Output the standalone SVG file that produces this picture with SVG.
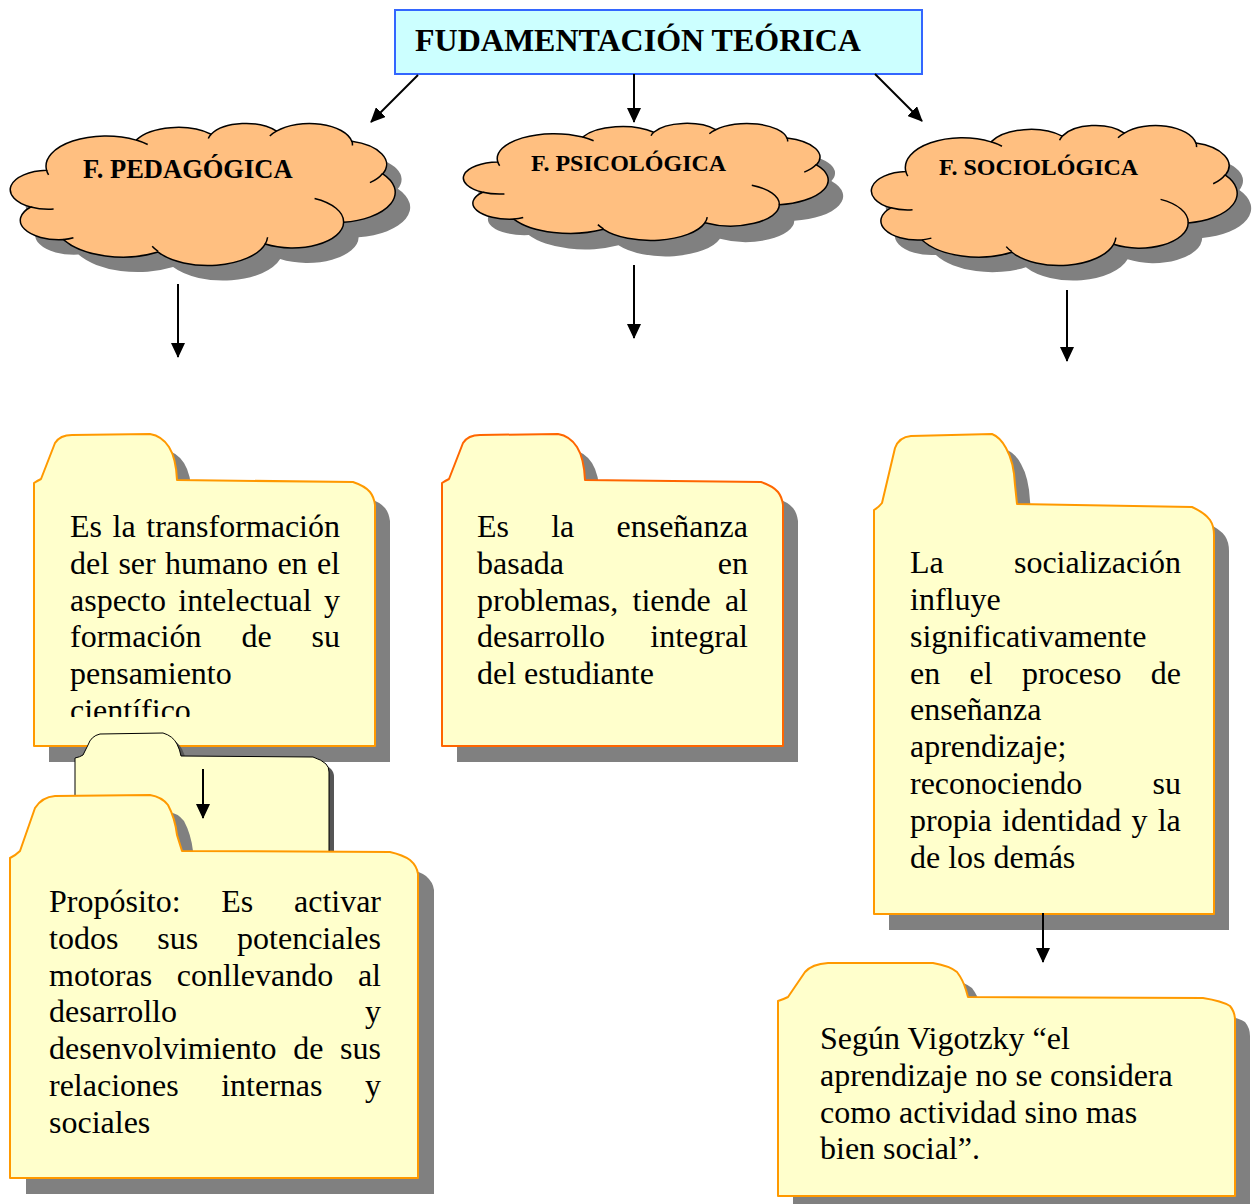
<svg xmlns="http://www.w3.org/2000/svg" xmlns:xlink="http://www.w3.org/1999/xlink" width="1252" height="1204" viewBox="0 0 1252 1204">
  <style>
    .txt { font-family: "Liberation Serif", "Times New Roman", serif; font-size: 32px; fill: #000; }
    .head { font-family: "Liberation Serif", "Times New Roman", serif; font-weight: bold; fill: #000; }
    .shadow { fill: #808080; stroke: none; }
    .cloud { fill: #FFBF80; stroke: #000; stroke-width: 1.5; }
    .crease { fill: none; stroke: #000; stroke-width: 1.5; }
    .folder { fill: #FFFFCC; stroke: #FF9900; stroke-width: 2; stroke-linejoin: round; }
    .link { stroke: #000; stroke-width: 2; fill: none; marker-end: url(#arrow); }
  </style>
  <defs>
    <marker id="arrow" viewBox="0 0 15 14" refX="14" refY="7" markerWidth="15" markerHeight="14" markerUnits="userSpaceOnUse" orient="auto">
      <path d="M0,0 L15,7 L0,14 Z" fill="#000"/>
    </marker>
    <!-- cloud outline drawn in a 432 x 432 box -->
    <path id="cloudShape" vector-effect="non-scaling-stroke" d="M39.00,143.70 A67.53,91.90 0 0 1 140.05,52.02 A53.33,72.67 0 0 1 224.57,34.34 A43.65,59.45 0 0 1 298.34,24.83 A48.57,65.95 0 0 1 383.19,55.80 A53.33,72.73 0 0 1 418.19,154.64 A67.75,92.20 0 0 1 374.04,302.07 A57.85,78.67 0 0 1 285.55,368.17 A67.52,92.15 0 0 1 164.81,392.71 A77.20,105.43 0 0 1 58.04,354.76 A43.60,59.18 0 0 1 21.12,255.56 A43.45,59.45 0 0 1 39.00,143.70 Z"/>
    <!-- inner crease arcs where the puffs meet -->
    <path id="cloudCreases" vector-effect="non-scaling-stroke" d="M46.93,261.77 A43.45,59.45 0 0 1 21.12,255.56 M69.28,348.99 A43.60,59.18 0 0 1 58.04,354.76 M164.78,390.90 A67.52,92.15 0 0 1 158.12,375.29 M288.27,347.51 A67.52,92.15 0 0 1 285.55,368.17 M341.29,229.54 A57.85,78.67 0 0 1 374.04,302.07 M417.98,153.54 A53.33,72.73 0 0 1 403.71,181.40 M383.24,54.26 A48.57,65.95 0 0 1 383.95,68.43 M290.78,39.52 A48.57,65.95 0 0 1 298.34,24.83 M221.41,47.20 A43.65,59.45 0 0 1 224.57,34.34 M140.00,51.92 A67.53,91.90 0 0 1 153.06,65.52 M41.27,157.89 A67.53,91.90 0 0 1 39.00,143.70"/>
    <path id="folderA" d="M34,483 Q37,481 41,479 L55,443 Q60,435 72,435 L150,434 Q162,436 169,447 Q176,458 177,480 L353,482 Q365,486 370,492 Q374,497 375,505 L375,746 L34,746 Z"/>
    <clipPath id="clipA">
      <rect x="34" y="490" width="341" height="227"/>
    </clipPath>
  </defs>

  <rect width="1252" height="1204" fill="#FFFFFF"/>

  <!-- title -->
  <g id="title">
    <rect x="395" y="10" width="527" height="64" fill="#CCFFFF" stroke="#3366FF" stroke-width="2"/>
    <text class="head" x="415" y="51" font-size="32">FUDAMENTACIÓN TEÓRICA</text>
  </g>

  <!-- clouds -->
  <g id="cloud-pedagogica">
    <use xlink:href="#cloudShape" class="shadow" transform="translate(27,138) scale(0.8866,0.3287)"/>
    <use xlink:href="#cloudShape" class="cloud" transform="translate(12,123) scale(0.8866,0.3287)"/>
    <use xlink:href="#cloudCreases" class="crease" transform="translate(12,123) scale(0.8866,0.3287)"/>
    <text class="head" x="83" y="178" font-size="26.5">F. PEDAGÓGICA</text>
  </g>
  <g id="cloud-psicologica">
    <use xlink:href="#cloudShape" class="shadow" transform="translate(480,139) scale(0.8403,0.2708)"/>
    <use xlink:href="#cloudShape" class="cloud" transform="translate(465,123) scale(0.8403,0.2708)"/>
    <use xlink:href="#cloudCreases" class="crease" transform="translate(465,123) scale(0.8403,0.2708)"/>
    <text class="head" x="531" y="171" font-size="24">F. PSICOLÓGICA</text>
  </g>
  <g id="cloud-sociologica">
    <use xlink:href="#cloudShape" class="shadow" transform="translate(887,140) scale(0.8426,0.3241)"/>
    <use xlink:href="#cloudShape" class="cloud" transform="translate(873,125) scale(0.8426,0.3241)"/>
    <use xlink:href="#cloudCreases" class="crease" transform="translate(873,125) scale(0.8426,0.3241)"/>
    <text class="head" x="939" y="175" font-size="24">F. SOCIOLÓGICA</text>
  </g>

  <!-- folder: pedagogical -->
  <g id="folder-pedagogica">
    <use xlink:href="#folderA" class="shadow" transform="translate(15,16)"/>
    <use xlink:href="#folderA" class="folder"/>
    <g clip-path="url(#clipA)">
      <text class="txt" x="70" y="537" style="word-spacing:2.6px">Es la transformación</text>
      <text class="txt" x="70" y="574" style="word-spacing:1.3px">del ser humano en el</text>
      <text class="txt" x="70" y="611" style="word-spacing:4.35px">aspecto intelectual y</text>
      <text class="txt" x="70" y="647" style="word-spacing:31.9px">formación de su</text>
      <text class="txt" x="70" y="684">pensamiento</text>
      <text class="txt" x="70" y="721">científico.</text>
    </g>
  </g>

  <!-- folder: psychological -->
  <g id="folder-psicologica">
    <use xlink:href="#folderA" class="shadow" transform="translate(423,16)"/>
    <use xlink:href="#folderA" class="folder" transform="translate(408,0)" style="stroke:#FF6600"/>
    <text class="txt" x="477" y="537" style="word-spacing:34.2px">Es la enseñanza</text>
    <text class="txt" x="477" y="574" style="word-spacing:145.7px">basada en</text>
    <text class="txt" x="477" y="611" style="word-spacing:6.2px">problemas, tiende al</text>
    <text class="txt" x="477" y="647" style="word-spacing:37.3px">desarrollo integral</text>
    <text class="txt" x="477" y="684">del estudiante</text>
  </g>

  <!-- folder: sociological -->
  <g id="folder-sociologica">
    <path class="shadow" transform="translate(15,16)" d="M874,510 Q879,507 882,503 L895,448 Q899,437 911,436 L992,434 Q1000,437 1006,448 Q1014,462 1015,485 L1017,504 L1192,507 Q1205,513 1210,520 Q1214,526 1214,535 L1214,914 L874,914 Z"/>
    <path class="folder" d="M874,510 Q879,507 882,503 L895,448 Q899,437 911,436 L992,434 Q1000,437 1006,448 Q1014,462 1015,485 L1017,504 L1192,507 Q1205,513 1210,520 Q1214,526 1214,535 L1214,914 L874,914 Z"/>
    <text class="txt" x="910" y="573" style="word-spacing:62.2px">La socialización</text>
    <text class="txt" x="910" y="610">influye</text>
    <text class="txt" x="910" y="647">significativamente</text>
    <text class="txt" x="910" y="684" style="word-spacing:21.3px">en el proceso de</text>
    <text class="txt" x="910" y="720">enseñanza</text>
    <text class="txt" x="910" y="757">aprendizaje;</text>
    <text class="txt" x="910" y="794" style="word-spacing:62.2px">reconociendo su</text>
    <text class="txt" x="910" y="831" style="word-spacing:2.3px">propia identidad y la</text>
    <text class="txt" x="910" y="868">de los demás</text>
  </g>

  <!-- small empty folder behind the purpose card -->
  <g id="folder-blank">
    <path fill="#555555" transform="translate(5,5)" d="M75,758 Q80,757 83,755 L88,745 Q91,736 100,734 L163,733 Q173,736 177,744 Q180,750 181,756 L313,757 Q322,760 326,764 Q329,767 329,772 L329,880 L75,880 Z"/>
    <path fill="#FFFFCC" stroke="#000" stroke-width="1" d="M75,758 Q80,757 83,755 L88,745 Q91,736 100,734 L163,733 Q173,736 177,744 Q180,750 181,756 L313,757 Q322,760 326,764 Q329,767 329,772 L329,880 L75,880 Z"/>
  </g>

  <!-- folder: purpose -->
  <g id="folder-proposito">
    <path class="shadow" transform="translate(16,16)" d="M10,858 Q16,855 20,851 L35,808 Q42,797 55,796 L150,795 Q162,797 168,805 Q175,818 177,835 L182,851 L390,852 Q403,855 410,860 Q417,866 418,874 L418,1178 L10,1178 Z"/>
    <path class="folder" d="M10,858 Q16,855 20,851 L35,808 Q42,797 55,796 L150,795 Q162,797 168,805 Q175,818 177,835 L182,851 L390,852 Q403,855 410,860 Q417,866 418,874 L418,1178 L10,1178 Z"/>
    <text class="txt" x="49" y="912" style="word-spacing:32.7px">Propósito: Es activar</text>
    <text class="txt" x="49" y="949" style="word-spacing:30.9px">todos sus potenciales</text>
    <text class="txt" x="49" y="986" style="word-spacing:16.7px">motoras conllevando al</text>
    <text class="txt" x="49" y="1022" style="word-spacing:180px">desarrollo y</text>
    <text class="txt" x="49" y="1059" style="word-spacing:8.65px">desenvolvimiento de sus</text>
    <text class="txt" x="49" y="1096" style="word-spacing:34.5px">relaciones internas y</text>
    <text class="txt" x="49" y="1133">sociales</text>
  </g>

  <!-- folder: Vigotzky quote -->
  <g id="folder-vigotzky">
    <path class="shadow" transform="translate(15,16)" d="M778,1001 Q784,999 788,997 L805,972 Q812,964 828,963 L933,963 Q950,966 957,972 Q963,980 966,990 L968,997 L1203,998 Q1222,1001 1230,1006 Q1235,1012 1235,1020 L1235,1196 L778,1196 Z"/>
    <path class="folder" d="M778,1001 Q784,999 788,997 L805,972 Q812,964 828,963 L933,963 Q950,966 957,972 Q963,980 966,990 L968,997 L1203,998 Q1222,1001 1230,1006 Q1235,1012 1235,1020 L1235,1196 L778,1196 Z"/>
    <text class="txt" x="820" y="1049">Según Vigotzky “el</text>
    <text class="txt" x="820" y="1086">aprendizaje no se considera</text>
    <text class="txt" x="820" y="1123">como actividad sino mas</text>
    <text class="txt" x="820" y="1159">bien social”.</text>
  </g>

  <!-- connectors -->
  <g id="connectors">
    <line class="link" x1="418" y1="75" x2="371" y2="122"/>
    <line class="link" x1="634" y1="74" x2="634" y2="122"/>
    <line class="link" x1="875" y1="74" x2="922" y2="121"/>
    <line class="link" x1="178" y1="284" x2="178" y2="357"/>
    <line class="link" x1="634" y1="265" x2="634" y2="338"/>
    <line class="link" x1="1067" y1="290" x2="1067" y2="361"/>
    <line class="link" x1="203" y1="769" x2="203" y2="818"/>
    <line class="link" x1="1043" y1="913" x2="1043" y2="962"/>
  </g>
</svg>
